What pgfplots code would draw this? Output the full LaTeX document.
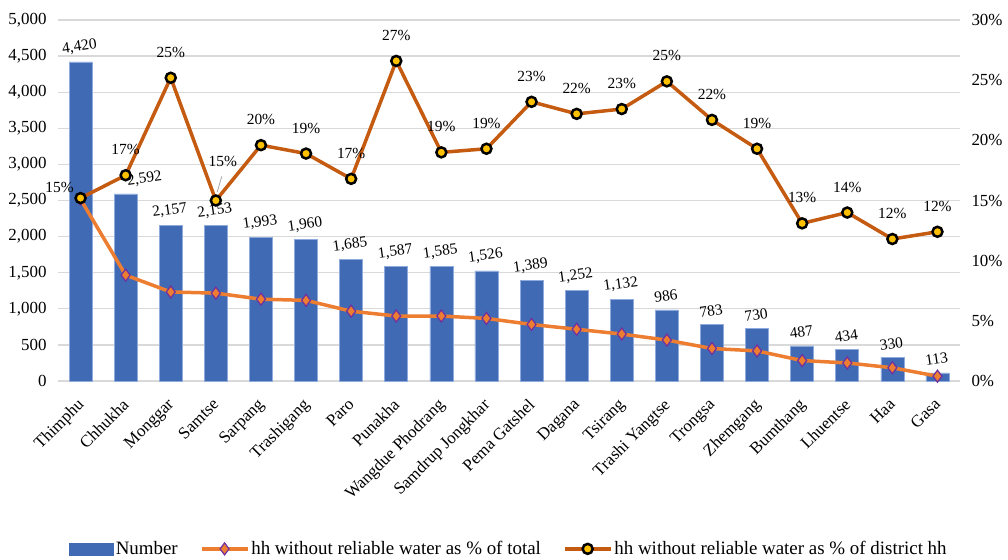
\documentclass[border=0pt]{standalone}
\usepackage{fontspec}
\setmainfont{Liberation Serif}
\usepackage{pgfplots}
\pgfplotsset{compat=1.18}
\usepackage{pgfplotstable}

\definecolor{barblue}{RGB}{65,106,180}
\definecolor{baredge}{RGB}{143,170,220}
\definecolor{lineorange}{RGB}{237,125,49}
\definecolor{linerust}{RGB}{197,90,17}
\definecolor{markpurple}{RGB}{112,48,160}
\definecolor{markyellow}{RGB}{255,192,0}
\definecolor{gridgray}{RGB}{217,217,217}

\pgfplotsset{
    longline legend/.style={legend image code/.code={%
        \draw[mark repeat=2,mark phase=2,##1] plot coordinates {(0bp,0bp) (23bp,0bp) (46bp,0bp)};}},
    barpatch legend/.style={legend image code/.code={%
        \fill[barblue] (0bp,-6bp) rectangle (44bp,6bp);}},
}

% idx, households, % of total, % of district hh
\pgfplotstableread{
idx num  tot  dist
0  4420 15.1 15.2
1  2592  8.8 17.1
2  2157  7.4 25.2
3  2153  7.3 15.0
4  1993  6.8 19.6
5  1960  6.7 18.9
6  1685  5.8 16.8
7  1587  5.4 26.6
8  1585  5.4 19.0
9  1526  5.2 19.3
10 1389  4.7 23.2
11 1252  4.3 22.2
12 1132  3.9 22.6
13  986  3.4 24.9
14  783  2.7 21.7
15  730  2.5 19.3
16  487  1.7 13.1
17  434  1.5 14.0
18  330  1.1 11.8
19  113  0.4 12.4
}\districts

\newcommand{\tickfont}{\fontsize{17}{20}\selectfont}
\newcommand{\valfont}{\fontsize{15.5}{18}\selectfont}
\newcommand{\legfont}{\fontsize{19}{22}\selectfont}

\begin{document}
\begin{tikzpicture}[font=\tickfont]
\begin{axis}[
    name=ax, at={(0,0)}, anchor=south west,
    scale only axis, width=902bp, height=361bp,
    xmin=-0.5, xmax=19.5, ymin=0, ymax=5000,
    ytick={0,500,...,5000},
    xtick={0,...,19},
    xticklabels={Thimphu,Chhukha,Monggar,Samtse,Sarpang,Trashigang,Paro,Punakha,
        Wangdue Phodrang,Samdrup Jongkhar,Pema Gatshel,Dagana,Tsirang,Trashi Yangtse,
        Trongsa,Zhemgang,Bumthang,Lhuentse,Haa,Gasa},
    xticklabel style={rotate=45, anchor=north east, inner sep=1bp, yshift=-7.5bp, xshift=-13.5bp},
    yticklabel style={xshift=-8bp},
    tick label style={font=\tickfont, /pgf/number format/assume math mode=true},
    major tick length=0pt,
    axis line style={draw=none},
    ymajorgrids, grid style={gridgray, line width=1.3bp},
    ybar, bar width=23bp,
    nodes near coords,
    every node near coord/.append style={font=\valfont, rotate=8, inner sep=0pt,
        yshift=8bp, xshift=1bp, /pgf/number format/assume math mode=true},
    coordinate style/.condition={x==1}{xshift=20bp},
]
\addplot[fill=barblue, draw=baredge, line width=0.6bp] table[x=idx, y=num]{\districts};
\end{axis}

\begin{axis}[
    at={(0,0)}, anchor=south west,
    scale only axis, width=902bp, height=361bp,
    xmin=-0.5, xmax=19.5, ymin=0, ymax=30,
    ytick={0,5,...,30},
    yticklabel={\pgfmathprintnumber{\tick}\%},
    axis y line*=right, axis x line=none,
    axis line style={draw=none},
    major tick length=0pt,
    yticklabel style={xshift=8bp},
    tick label style={font=\tickfont, /pgf/number format/assume math mode=true},
    legend style={at={(0.5,-0.465)}, anchor=center, draw=none, fill=none,
        font=\legfont, legend columns=3, nodes={inner sep=2bp},
        /tikz/every even column/.append style={column sep=20bp}},
    legend cell align=left,
]
\addlegendimage{barpatch legend}
\addlegendentry{Number}

\addplot[lineorange, line width=3.5bp, mark=diamond*, mark size=6bp,
    mark options={fill=lineorange, draw=markpurple, line width=1.2bp},
    longline legend]
    table[x=idx, y=tot]{\districts};
\addlegendentry{hh without reliable water as \% of total}

\addplot[linerust, line width=3.5bp, mark=*, mark size=5bp,
    mark options={fill=markyellow, draw=black, line width=2.5bp},
    nodes near coords={\pgfmathprintnumber[fixed,precision=0]{\pgfplotspointmeta}\%},
    point meta=y,
    every node near coord/.append style={font=\valfont, text=black, inner sep=0pt,
        anchor=south, yshift=19bp, /pgf/number format/assume math mode=true},
    coordinate style/.condition={x==0}{xshift=-21bp, yshift=-14.5bp},
    coordinate style/.condition={x==3}{yshift=13.5bp, xshift=7bp},
    longline legend]
    table[x=idx, y=dist]{\districts};
\addlegendentry{hh without reliable water as \% of district hh}

\draw[gray!70, line width=0.8bp] (axis cs:3.03,15.7) -- (axis cs:3.13,17.0);
\end{axis}

\pgfresetboundingbox
\path[use as bounding box] ([shift={(-58bp,-179bp)}]ax.south west) rectangle ([shift={(48bp,20bp)}]ax.north east);
\end{tikzpicture}
\end{document}
